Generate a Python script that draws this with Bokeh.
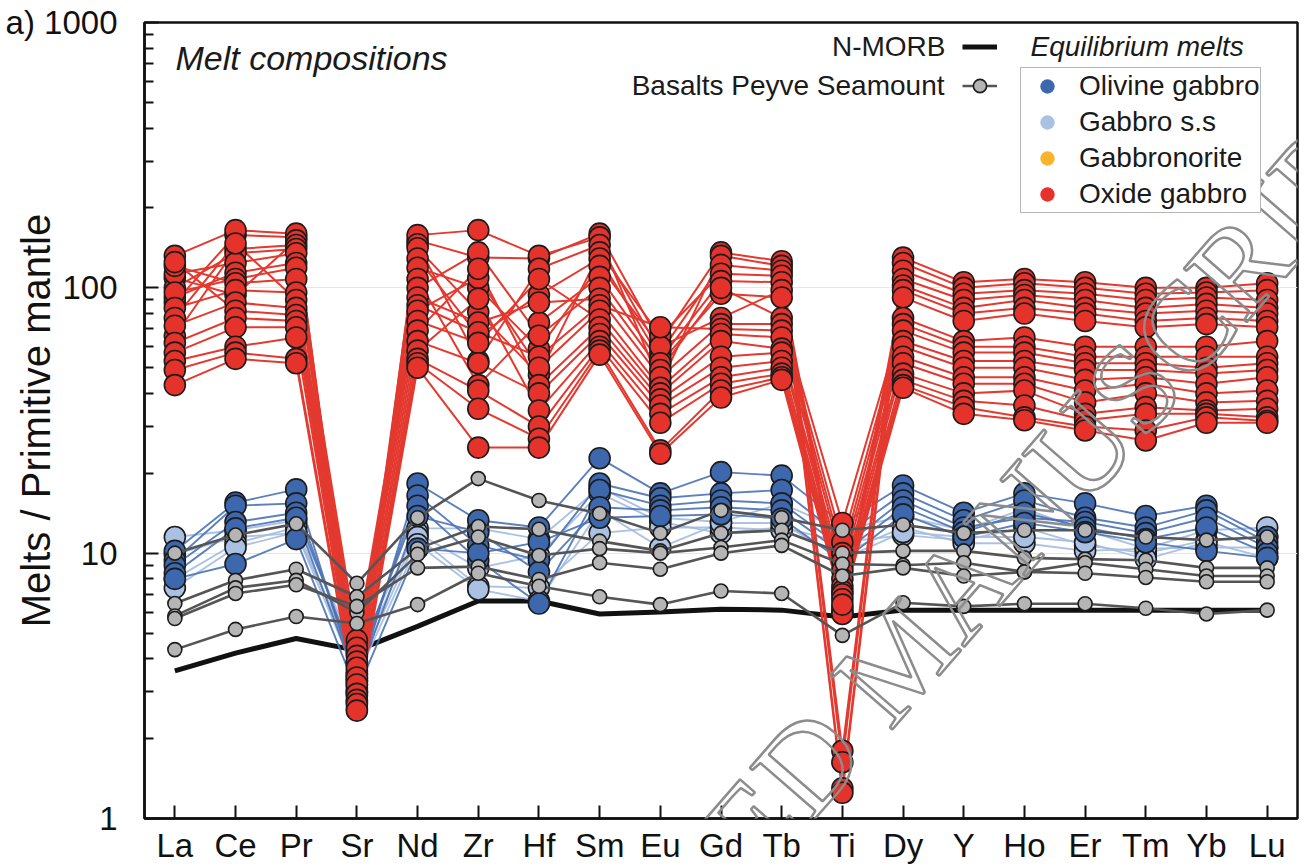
import math
from bokeh.plotting import figure
from bokeh.models import Range1d, FixedTicker, Legend, LegendItem, Label
from bokeh.embed import file_html
from bokeh.resources import INLINE

# ---------------- data ----------------
elements = ["La", "Ce", "Pr", "Sr", "Nd", "Zr", "Hf", "Sm", "Eu", "Gd", "Tb",
            "Ti", "Dy", "Y", "Ho", "Er", "Tm", "Yb", "Lu"]

nmorb = [3.6, 4.2, 4.77, 4.3, 5.3, 6.6, 6.6, 5.9, 6.0, 6.15, 6.1, 5.75, 6.1, 6.1, 6.1, 6.1, 6.1, 6.1, 6.1]

basalts_peyve = [
    [10.0, 11.7, 12.9, 7.7, 13.6, 19.1, 15.8, 14.1, 11.9, 14.5, 13.6, 12.2, 12.8, 11.9, 12.2, 12.2, 11.5, 11.2, 11.5],
    [6.46, 7.9, 8.7, 6.85, 10.4, 12.6, 12.3, 11.1, 10.2, 11.9, 12.2, 10.0, 10.2, 10.2, 9.6, 9.5, 9.4, 8.8, 8.8],
    [5.8, 7.4, 7.9, 5.97, 9.9, 11.5, 9.8, 10.4, 10.0, 10.5, 11.2, 9.1, 9.0, 9.2, 8.5, 9.2, 8.7, 8.2, 8.2],
    [5.67, 7.05, 7.6, 6.3, 8.8, 8.9, 7.96, 9.2, 8.7, 10.0, 10.7, 8.2, 8.8, 8.2, 8.5, 8.4, 8.1, 7.8, 7.8],
    [4.33, 5.16, 5.77, 5.43, 6.4, 8.4, 7.5, 6.85, 6.4, 7.2, 7.05, 4.9, 6.5, 6.3, 6.45, 6.45, 6.2, 5.9, 6.1],
]

olivine_gabbro = [
    [10.2, 15.5, 17.4, 3.2, 18.3, 13.3, 12.5, 22.8, 16.8, 20.2, 19.6, 12.9, 18.0, 14.2, 16.8, 15.4, 13.8, 15.1, 11.5],
    [9.4, 15.1, 15.4, 3.5, 16.5, 10.7, 9.4, 18.3, 16.1, 16.8, 17.3, 11.5, 16.8, 13.3, 15.8, 13.6, 12.5, 14.5, 11.0],
    [9.0, 13.1, 14.2, 3.8, 15.1, 9.4, 6.46, 17.3, 15.1, 15.8, 15.4, 10.5, 15.8, 12.5, 13.6, 13.1, 11.9, 13.6, 10.5],
    [8.4, 12.4, 13.6, 3.3, 13.8, 12.0, 8.5, 14.9, 14.5, 14.9, 14.5, 10.0, 14.9, 12.0, 14.2, 12.5, 11.3, 12.5, 10.0],
    [8.0, 9.1, 11.3, 3.0, 10.4, 10.0, 11.0, 13.6, 13.8, 14.0, 13.5, 9.3, 14.0, 11.5, 13.0, 12.0, 11.0, 10.2, 9.6],
]

gabbro_ss = [
    [11.5, 12.2, 13.3, 4.2, 12.4, 12.4, 11.3, 17.7, 13.6, 13.1, 15.4, 12.2, 13.8, 12.2, 14.7, 12.2, 10.4, 12.2, 12.5],
    [9.9, 11.5, 11.9, 3.9, 11.9, 8.8, 9.8, 16.8, 13.1, 11.9, 12.5, 11.0, 11.7, 11.2, 12.5, 10.7, 10.0, 11.2, 11.5],
    [8.0, 10.9, 12.5, 3.6, 11.5, 7.5, 7.4, 11.9, 12.5, 12.5, 12.2, 10.0, 12.5, 10.9, 10.9, 10.2, 10.4, 10.5, 10.5],
    [7.4, 10.5, 12.0, 3.4, 10.8, 7.3, 6.6, 14.5, 10.5, 13.0, 13.0, 9.5, 12.0, 11.5, 11.5, 11.0, 9.5, 11.0, 9.6],
]

oxide_gabbro = [
    [88, 158, 155, 3.3, 151, 130, 129, 160, 62, 136, 126, 1.8, 130, 105, 108, 105, 100, 100, 104],
    [132, 165, 160, 2.9, 158, 165, 132, 155, 43.5, 132, 121, 1.63, 124, 100, 104, 100, 95, 96, 98],
    [109, 94, 151, 3.1, 146, 53, 118, 145, 57, 122, 116, 1.3, 116, 95, 98, 95, 90, 92, 90],
    [66, 140, 145, 2.6, 141, 81, 47, 136, 66, 113, 111, 1.25, 108, 90, 94, 90, 84, 87, 84],
    [100, 135, 140, 3.5, 129, 66, 94, 129, 54, 106, 105, 6.2, 102, 84, 90, 84, 80, 82, 80],
    [113, 124, 135, 2.75, 119, 100, 59, 121, 60, 77, 98, 6.0, 98, 80, 84, 80, 75, 77, 75],
    [92, 114, 124, 3.0, 108, 43, 74, 110, 52, 95, 92, 5.9, 92, 75, 80, 75, 71, 73, 71],
    [96, 108, 119, 4.7, 100, 136, 66, 100, 49, 100, 77, 13, 77, 63, 65, 60, 60, 60, 63],
    [121, 104, 108, 4.4, 92, 74, 88, 91, 46, 73, 73, 11, 73, 60, 60, 55, 55, 55, 55],
    [84, 98, 96, 4.1, 86, 68, 55, 86, 71, 70, 69, 10, 69, 57, 57, 52, 52, 50, 52],
    [77, 147, 90, 3.9, 82, 109, 50, 82, 42, 67, 65, 9.3, 63, 53, 53, 49, 49, 47.5, 49],
    [72, 88, 84, 3.7, 75, 62, 108, 76, 40, 63, 59, 8.6, 60, 50, 50, 45, 46, 43.5, 46],
    [125, 82, 79, 3.4, 69, 118, 43, 71, 38, 55, 57, 8.0, 55, 46, 46, 41, 43.5, 40, 41],
    [62, 77, 75, 3.2, 63, 52, 40, 67, 36, 50, 53, 7.5, 52, 43.5, 43.5, 37, 40, 37, 37.5],
    [57, 71, 71, 2.95, 58, 91, 34.5, 63, 33.5, 46, 50, 7.2, 47.5, 40, 41, 33.5, 35.5, 34.5, 35],
    [53, 60, 65, 2.8, 54, 41, 30, 60, 31, 43.5, 47.5, 7.0, 45, 37.5, 36, 31.7, 33.5, 33.5, 32.5],
    [49, 57, 54, 2.7, 52, 35, 27, 58, 24.4, 41, 46, 6.7, 43, 35.5, 32.5, 30, 29, 32.5, 31.5],
    [43, 54, 52, 2.55, 50, 25, 25, 56, 23.7, 38.6, 45, 6.4, 42, 33.5, 31.7, 29, 26.6, 31, 31],
]

y_ticks = [1, 10, 100, 1000]
y_tick_labels = ["1", "10", "100", "a) 1000"]

# ---------------- styling ----------------
FONT = "Liberation Sans"
RED, RED_LINE = "#e5322a", "#e3392f"
DBLUE, DBLUE_LINE = "#3d68ae", "#4a72b5"
LBLUE, LBLUE_LINE = "#aac1e3", "#a3bbe0"
YELLOW = "#f8b52b"
GREY, GREY_LINE = "#b5b5b5", "#555555"
EDGE = "#1c1c1c"

W, H = 1306, 868
FL, FR, FT, FB = 144, 1297, 22, 818
X0, X1 = -0.5, len(elements) - 0.5


def dx(px):
    return X0 + (px - FL) / (FR - FL) * (X1 - X0)


def dy(py):
    return 10 ** (3.0 * (FB - py) / (FB - FT))


p = figure(width=W, height=H, output_backend="svg", toolbar_location=None,
           y_axis_type="log", x_range=Range1d(X0, X1), y_range=Range1d(1, 1000),
           min_border_left=FL, min_border_right=W - FR, min_border_top=FT,
           min_border_bottom=H - FB)
p.background_fill_color = "white"
p.border_fill_color = "white"
p.outline_line_color = "#111111"
p.outline_line_width = 2.5

xs = list(range(len(elements)))

# axes
p.xaxis.ticker = FixedTicker(ticks=xs)
p.xaxis.major_label_overrides = {i: e for i, e in enumerate(elements)}
p.xaxis.major_tick_in = 13
p.xaxis.major_tick_out = 0
p.xaxis.major_label_standoff = 8

minor = [m * 10 ** k for k in range(3) for m in range(2, 10)]
p.yaxis.ticker = FixedTicker(ticks=y_ticks, minor_ticks=minor)
p.yaxis.major_label_overrides = {t: l for t, l in zip(y_ticks, y_tick_labels)}
p.yaxis.major_tick_in = 14
p.yaxis.major_tick_out = 0
p.yaxis.minor_tick_in = 9
p.yaxis.minor_tick_out = 0
p.yaxis.major_label_standoff = 27
p.yaxis.axis_label = "Melts / Primitive mantle"
p.yaxis.axis_label_text_font = FONT
p.yaxis.axis_label_text_font_size = "40px"
p.yaxis.axis_label_text_font_style = "normal"
p.yaxis.axis_label_text_color = "#111111"
p.yaxis.axis_label_standoff = -55

for ax in (p.xaxis, p.yaxis):
    ax.axis_line_width = 2.5
    ax.axis_line_color = "#111111"
    ax.major_tick_line_width = 2
    ax.major_tick_line_color = "#111111"
    ax.minor_tick_line_width = 2
    ax.minor_tick_line_color = "#111111"
    ax.major_label_text_font = FONT
    ax.major_label_text_font_size = "33px"
    ax.major_label_text_color = "#111111"
p.xaxis.minor_tick_line_color = None

p.xgrid.visible = False
p.ygrid.grid_line_color = "#e6e6e6"
p.ygrid.grid_line_width = 1.2

# ---------------- glyphs ----------------
r_nmorb = p.line(xs, nmorb, line_color="#111111", line_width=5)


def group_lines(rows, color, width, alpha=1.0):
    return p.multi_line(xs=[xs] * len(rows), ys=rows, line_color=color,
                        line_width=width, line_alpha=alpha)


def group_dots(rows, fill, size):
    fx = [x for r in rows for x in xs]
    fy = [v for r in rows for v in r]
    return p.scatter(fx, fy, size=size, fill_color=fill, line_color=EDGE,
                     line_width=1.6)


group_lines(gabbro_ss, LBLUE_LINE, 1.9, 0.9)
group_lines(olivine_gabbro, DBLUE_LINE, 1.9, 0.9)
group_dots(gabbro_ss, LBLUE, 21)
group_dots(olivine_gabbro, DBLUE, 21)
group_lines(oxide_gabbro, RED_LINE, 2.0)
group_dots(oxide_gabbro, RED, 21)
r_bas_line = group_lines(basalts_peyve, GREY_LINE, 2.6)
r_bas_dot = group_dots(basalts_peyve, GREY, 14)

# legend-only key renderers (a single NaN point, never drawn in the plot)
nan = float("nan")
leg_r = []
for c in (DBLUE, LBLUE, YELLOW, RED):
    leg_r.append(p.scatter(x=[nan], y=[nan], size=20, fill_color=c, line_color=None))

leg1 = Legend(items=[LegendItem(label="Olivine gabbro", renderers=[leg_r[0]]),
                     LegendItem(label="Gabbro s.s", renderers=[leg_r[1]]),
                     LegendItem(label="Gabbronorite", renderers=[leg_r[2]]),
                     LegendItem(label="Oxide gabbro", renderers=[leg_r[3]])],
              location=(1020 - FL, FB - 213), orientation="vertical",
              glyph_width=52, glyph_height=36, label_height=36, spacing=0,
              padding=0, margin=0, label_standoff=6,
              label_text_font=FONT, label_text_font_size="28px",
              label_text_color="#1a1a1a",
              border_line_color="#6e6e6e", border_line_width=1.5,
              background_fill_color="white", background_fill_alpha=1.0)
p.add_layout(leg1)

leg2 = Legend(items=[LegendItem(label="", renderers=[r_nmorb]),
                     LegendItem(label="", renderers=[r_bas_line, r_bas_dot])],
              location=(962 - FL, FB - 102), orientation="vertical",
              glyph_width=35, glyph_height=33, label_height=33, spacing=6,
              padding=0, margin=0, label_standoff=0, label_width=0,
              label_text_font_size="28px",
              border_line_color=None, background_fill_alpha=0.0)
p.add_layout(leg2)

# ---------------- texts ----------------
def add_label(text, px, py, size, align="left", baseline="middle", style="normal",
              angle=0.0, color="#1a1a1a", font=FONT):
    lab = Label(x=dx(px), y=dy(py), text=text, text_font=font,
                text_font_size=size, text_align=align, text_baseline=baseline,
                text_font_style=style, angle=angle, text_color=color)
    p.add_layout(lab)
    return lab

add_label("Melt compositions", 175, 57, "34px", style="italic")
add_label("N-MORB", 945, 46, "28px", align="right")
add_label("Basalts Peyve Seamount", 944, 85, "28px", align="right")
add_label("Equilibrium melts", 1030, 46, "28px", style="italic")

# journal watermark (outlined letters)
wm = Label(x=dx(900), y=dy(655), text="ACCEPTED MANUSCRIPT",
           text_font="Liberation Serif", text_font_size="126px",
           text_align="center", text_baseline="alphabetic",
           angle=math.radians(49), text_color=(255, 255, 255, 0.0),
           text_outline_color="#8c8c8c")
p.add_layout(wm)

open("out.html", "w").write(file_html(p, INLINE))
